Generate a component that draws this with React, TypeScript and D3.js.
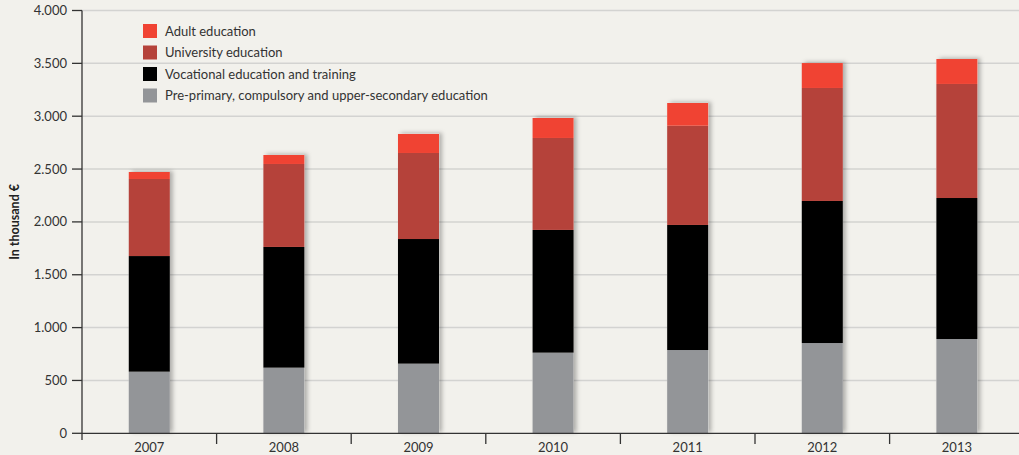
import React from "react";
import * as d3 from "d3";

const years = ["2007", "2008", "2009", "2010", "2011", "2012", "2013"];
const prePrimary = [583, 621, 659, 763, 788, 854, 892];
const vocational = [1094, 1142, 1179, 1161, 1183, 1344, 1334];
const university = [729, 785, 814, 870, 939, 1069, 1079];
const adult = [66, 85, 180, 189, 215, 236, 236];
const yTicks = [0, 500, 1000, 1500, 2000, 2500, 3000, 3500, 4000];

const seriesKeys = ["pre", "voc", "univ", "adult"];
const seriesLabels: Record<string, string> = {
  adult: "Adult education",
  univ: "University education",
  voc: "Vocational education and training",
  pre: "Pre-primary, compulsory and upper-secondary education",
};
const seriesColors: Record<string, string> = {
  adult: "#f04333",
  univ: "#b5423a",
  voc: "#000000",
  pre: "#939598",
};
const legendOrder = ["adult", "univ", "voc", "pre"];

const W = 1019;
const H = 455;
const FONT = "Lato, 'Open Sans', sans-serif";

export default function App() {
  const rows = years.map((y, i) => ({
    year: y,
    pre: prePrimary[i],
    voc: vocational[i],
    univ: university[i],
    adult: adult[i],
  }));
  const stacked = d3.stack<any>().keys(seriesKeys)(rows);

  const x0 = 82;
  const step = 134.6;
  const x = d3.scaleBand<string>().domain(years).range([x0, x0 + step * years.length]).padding(0);
  const y = d3.scaleLinear().domain([0, 4000]).range([433.3, 10.5]);
  const barW = x.bandwidth() * 0.305;

  const fmt = (v: number) => (v >= 1000 ? d3.format(",")(v).replace(",", ".") : String(v));

  return (
    <div style={{ position: "absolute", left: 0, top: 0 }}>
      <svg width={W} height={H} style={{ display: "block", background: "#f2f1ec" }}>
        <defs>
          <filter id="sh" x="-30%" y="-10%" width="160%" height="120%">
            <feDropShadow dx="3" dy="-1" stdDeviation="2.2" floodColor="#000" floodOpacity="0.28" />
          </filter>
        </defs>
        <rect x={0} y={0} width={W} height={H} fill="#f2f1ec" />
        {yTicks.slice(1).map((t) => (
          <line key={"g" + t} x1={x0} x2={W} y1={y(t)} y2={y(t)} stroke="#d3d3d1" strokeWidth={1.5} />
        ))}
        {years.map((yr, i) => {
          const top = stacked[stacked.length - 1][i][1];
          const cx = (x(yr) as number) + x.bandwidth() / 2;
          return (
            <g key={yr}>
              <rect
                x={cx - barW / 2}
                y={y(top)}
                width={barW}
                height={y(0) - y(top)}
                fill="#f2f1ec"
                filter="url(#sh)"
              />
              {stacked.map((s) => (
                <rect
                  key={s.key}
                  x={cx - barW / 2}
                  y={y(s[i][1])}
                  width={barW}
                  height={y(s[i][0]) - y(s[i][1])}
                  fill={seriesColors[s.key]}
                />
              ))}
            </g>
          );
        })}
        <line x1={x0} x2={x0} y1={y(4000)} y2={440} stroke="#333" strokeWidth={1.3} />
        {yTicks.map((t) => (
          <g key={"t" + t}>
            <line x1={72} x2={x0} y1={y(t)} y2={y(t)} stroke="#333" strokeWidth={1.3} />
            <text x={67} y={y(t)} dy="0.35em" textAnchor="end" fontFamily={FONT} fontSize={13} fill="#333">
              {fmt(t)}
            </text>
          </g>
        ))}
        <line x1={x0} x2={W} y1={y(0)} y2={y(0)} stroke="#333" strokeWidth={1.3} />
        {years.map((yr, i) => (
          <g key={"x" + yr}>
            {i > 0 && (
              <line x1={x(yr) as number} x2={x(yr) as number} y1={y(0)} y2={444} stroke="#333" strokeWidth={1.3} />
            )}
            <text
              x={(x(yr) as number) + x.bandwidth() / 2}
              y={452}
              textAnchor="middle"
              fontFamily={FONT}
              fontSize={13}
              fill="#333"
            >
              {yr}
            </text>
          </g>
        ))}
        <text
          transform={`translate(19,${y(2000)}) rotate(-90)`}
          textAnchor="middle"
          fontFamily={FONT}
          fontWeight="bold"
          fontSize={12.5}
          fill="#222"
        >
          In thousand €
        </text>
        {legendOrder.map((k, i) => (
          <g key={"l" + k} transform={`translate(143,${24 + i * 21.5})`}>
            <rect x={0} y={0} width={14} height={14} fill={seriesColors[k]} />
            <text x={22} y={7} dy="0.35em" fontFamily={FONT} fontSize={13} fill="#333">
              {seriesLabels[k]}
            </text>
          </g>
        ))}
      </svg>
    </div>
  );
}
